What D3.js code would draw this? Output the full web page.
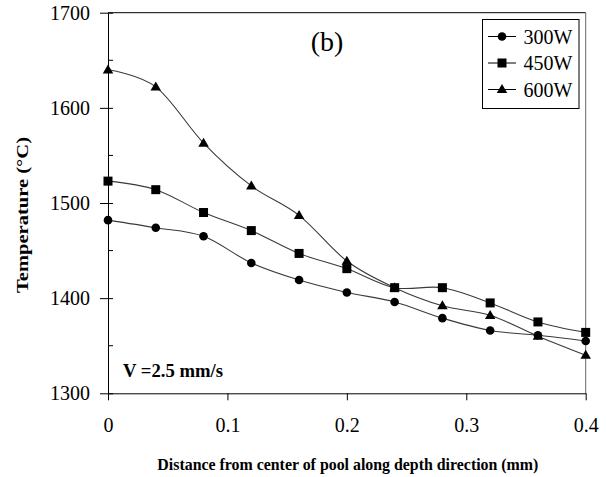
<!DOCTYPE html>
<html>
<head>
<meta charset="utf-8">
<script src="https://cdn.jsdelivr.net/npm/d3@7"></script>
<style>
  html, body { margin: 0; padding: 0; background: #fff; }
  svg { display: block; }
  text { font-family: "Liberation Serif", "Times New Roman", serif; fill: #000; }
</style>
</head>
<body>
<svg id="chart" width="606" height="477"></svg>
<script>
// Distance from pool centre (mm)
const distances = [0, 0.04, 0.08, 0.12, 0.16, 0.2, 0.24, 0.28, 0.32, 0.36, 0.4];

// Temperature (°C) for each laser power
const temp300W = [1482, 1474, 1465, 1437, 1419, 1406, 1396, 1379, 1366, 1361, 1355];
const temp450W = [1523, 1514, 1490, 1471, 1447, 1431, 1411, 1411, 1395, 1375, 1364];
const temp600W = [1640, 1622, 1563, 1518, 1487, 1439, 1411, 1392, 1382, 1360, 1340];

const seriesNames = ["300W", "450W", "600W"];
const seriesMarkers = ["circle", "square", "triangle"];

const xTicks = [0, 0.1, 0.2, 0.3, 0.4];
const xTickLabels = ["0", "0.1", "0.2", "0.3", "0.4"];
const yTicks = [1300, 1400, 1500, 1600, 1700];
const yTickLabels = ["1300", "1400", "1500", "1600", "1700"];
const yMinorTicks = [1350, 1450, 1550, 1650];

const xTitle = "Distance from center of pool along depth direction (mm)";
const yTitle = "Temperature (°C)";
const panelLabel = "(b)";
const speedNote = "V =2.5 mm/s";

const SERIF = '"Liberation Serif", "Times New Roman", serif';

const series = [temp300W, temp450W, temp600W].map((vals, i) => ({
  name: seriesNames[i],
  marker: seriesMarkers[i],
  points: vals.map((v, j) => ({ x: distances[j], y: v }))
}));

const svg = d3.select("#chart");
const plot = { left: 108, right: 585.7, top: 12.7, bottom: 393.3 };

const x = d3.scaleLinear().domain([0, 0.4]).range([plot.left, plot.right]);
const y = d3.scaleLinear().domain([1300, 1700]).range([plot.bottom, plot.top]);

// Frame on top and right
svg.append("line")
  .attr("x1", plot.left).attr("x2", plot.right)
  .attr("y1", plot.top).attr("y2", plot.top)
  .attr("stroke", "#000").attr("stroke-width", 1);
svg.append("line")
  .attr("x1", plot.right).attr("x2", plot.right)
  .attr("y1", plot.top).attr("y2", plot.bottom)
  .attr("stroke", "#666").attr("stroke-width", 1);

// Y axis: major ticks cross the axis, minor ticks point inward
const yAxisG = svg.append("g")
  .attr("transform", `translate(${plot.left},0)`)
  .call(d3.axisLeft(y).tickValues(yTicks).tickSize(8).tickSizeOuter(0).tickPadding(10)
    .tickFormat((d, i) => yTickLabels[i]));
yAxisG.attr("font-family", null).attr("font-size", null);
yAxisG.selectAll(".tick line").attr("x2", 5).attr("x1", -8);
yAxisG.selectAll("text").style("font-size", "20px").style("font-family", SERIF);
yAxisG.select(".domain").attr("stroke", "#000");
svg.append("g").selectAll("line").data(yMinorTicks).join("line")
  .attr("x1", plot.left).attr("x2", plot.left + 5)
  .attr("y1", d => y(d)).attr("y2", d => y(d))
  .attr("stroke", "#000");

// X axis
const xAxisG = svg.append("g")
  .attr("transform", `translate(0,${plot.bottom})`)
  .call(d3.axisBottom(x).tickValues(xTicks).tickSize(7).tickSizeOuter(0)
    .tickFormat((d, i) => xTickLabels[i]));
xAxisG.attr("font-family", null).attr("font-size", null);
xAxisG.selectAll("text").style("font-size", "20px").style("font-family", SERIF)
  .attr("dy", null).attr("y", 39);
xAxisG.select(".domain").attr("stroke", "#000");

// Axis titles
svg.append("text")
  .attr("x", (plot.left + plot.right) / 2 + 1).attr("y", 470)
  .attr("text-anchor", "middle")
  .style("font-size", "16px").style("font-weight", "bold")
  .attr("textLength", 381).attr("lengthAdjust", "spacingAndGlyphs")
  .text(xTitle);

svg.append("text")
  .attr("transform", "translate(28,215) rotate(-90)")
  .attr("text-anchor", "middle")
  .style("font-size", "16px").style("font-weight", "bold")
  .attr("textLength", 156).attr("lengthAdjust", "spacingAndGlyphs")
  .text(yTitle);

// Panel label and speed note
svg.append("text")
  .attr("x", 327).attr("y", 51)
  .attr("text-anchor", "middle")
  .style("font-size", "28px")
  .text(panelLabel);

svg.append("text")
  .attr("x", 123).attr("y", 376.5)
  .style("font-size", "18px").style("font-weight", "bold")
  .attr("textLength", 100).attr("lengthAdjust", "spacingAndGlyphs")
  .text(speedNote);

// Smoothed lines
const line = d3.line()
  .x(d => x(d.x)).y(d => y(d.y))
  .curve(d3.curveCardinal.tension(0));

svg.append("g").selectAll("path").data(series).join("path")
  .attr("d", d => line(d.points))
  .attr("fill", "none")
  .attr("stroke", "#3a3a3a")
  .attr("stroke-width", 1.1);

// Markers
function drawMarker(g, type, cx, cy) {
  if (type === "circle") {
    g.append("circle").attr("cx", cx).attr("cy", cy).attr("r", 4.3).attr("fill", "#000");
  } else if (type === "square") {
    g.append("rect").attr("x", cx - 4.5).attr("y", cy - 4.5)
      .attr("width", 9).attr("height", 9).attr("fill", "#000");
  } else {
    const h = 9, w = 10.5;
    g.append("path")
      .attr("d", `M${cx},${cy - h * 0.6}L${cx + w / 2},${cy + h * 0.4}L${cx - w / 2},${cy + h * 0.4}Z`)
      .attr("fill", "#000");
  }
}

const markerLayer = svg.append("g");
series.forEach(s => {
  s.points.forEach(p => drawMarker(markerLayer, s.marker, x(p.x), y(p.y)));
});

// Legend
const legend = svg.append("g");
legend.append("rect")
  .attr("x", 482.5).attr("y", 19.5).attr("width", 96.5).attr("height", 89)
  .attr("fill", "#fff").attr("stroke", "#000").attr("stroke-width", 1);
const rowY = [36.5, 63, 89.5];
series.forEach((s, i) => {
  const ry = rowY[i];
  legend.append("line")
    .attr("x1", 488).attr("x2", 516).attr("y1", ry).attr("y2", ry)
    .attr("stroke", "#000").attr("stroke-width", 1);
  drawMarker(legend, s.marker, 502, ry);
  legend.append("text")
    .attr("x", 523.5).attr("y", ry + 7)
    .style("font-size", "20px")
    .text(s.name);
});
</script>
</body>
</html>
